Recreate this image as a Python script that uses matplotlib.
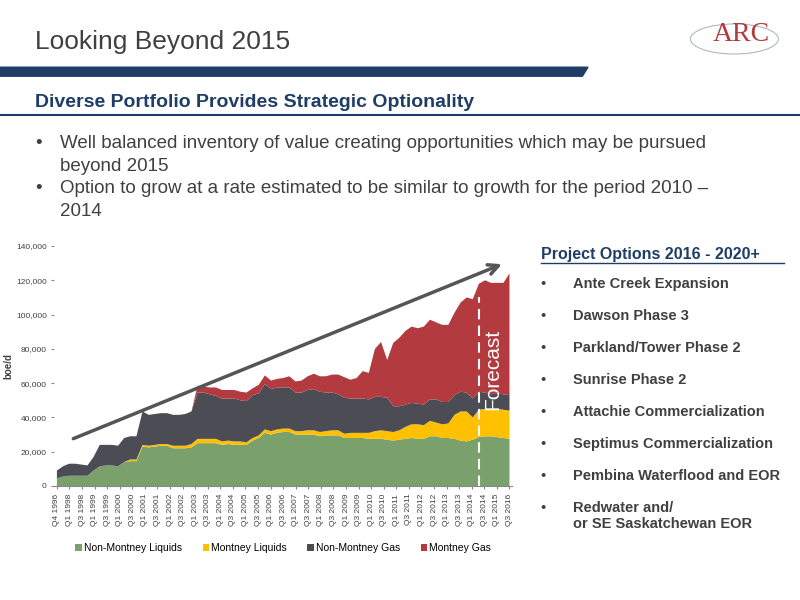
import numpy as np
import matplotlib
matplotlib.use("Agg")
import matplotlib.pyplot as plt
from matplotlib.patches import Polygon, Ellipse

plt.rcParams['font.family'] = ['Liberation Sans', 'DejaVu Sans']

# tick labels as printed on the source slide
tick_labels = ["Q4 1996", "Q1 1998", "Q3 1998"]
for yr in range(1999, 2015):
    tick_labels += [f"Q1 {yr}", f"Q3 {yr}"]
tick_labels += ["Q1 2015", "Q3 2016"]

# boe/d, thousands, sampled every half tick
non_montney_liquids = [4.5, 5.5, 6, 6, 6, 6, 9, 11.5, 12, 12, 11.5, 14, 14.5, 14.5,
                       23, 22.5, 23, 23.5, 23.5, 22, 22, 22, 22.5, 25, 25, 25, 25, 24,
                       24.5, 24, 24, 24, 26.5, 28, 31, 30, 31, 31.5, 31.5, 30, 30, 30,
                       30, 29, 29.5, 29.5, 29.5, 28, 28, 28, 28, 27.5, 27.5, 27.5, 27,
                       26.5, 27, 27.5, 28, 27.5, 27.5, 29, 29, 28, 28, 27.5, 26.5, 26,
                       27, 28.5, 29, 29, 28.5, 28, 27.5]
montney_liquids = [0, 0, 0, 0, 0, 0, 0, 0, 0, 0, 0, 0, 1, 1,
                   1, 1, 1, 1, 1, 1.5, 1.5, 1.5, 2, 2.5, 2.5, 2.5, 2.5, 2,
                   2, 2, 2, 1.5, 1.5, 1.5, 2, 2, 2, 2, 2, 2, 2, 2.5,
                   2.5, 2.5, 2.5, 3, 3, 2.5, 3, 3, 3, 3.5, 4.5, 5, 5,
                   5, 5.5, 7, 8, 8.5, 8, 9, 8, 8, 8.5, 14, 17, 17.5,
                   13, 16, 16, 15.5, 16.5, 16.5, 16.5]
non_montney_gas = [4.5, 6, 7, 7, 6.5, 6, 8, 12.5, 12, 12, 12, 14, 13.5, 13.5,
                   19.5, 18, 18, 18, 18, 18, 18, 18.5, 19, 27, 27, 26, 25, 25,
                   24.5, 25, 24, 24, 25, 24.5, 26.5, 24.5, 24.5, 24, 24, 22.5, 22.5, 23.5,
                   24, 23.5, 22.5, 22, 21, 21, 20, 20, 20, 19.5, 20, 19.5, 19.5,
                   15, 14, 13, 12.5, 12, 12, 12.5, 13.5, 13, 12.5, 11.5, 11.5, 11,
                   11, 10.5, 9.5, 9, 9, 9, 9]
montney_gas = [0, 0, 0, 0, 0, 0, 0, 0, 0, 0, 0, 0, 0, 0,
               0, 0, 0, 0, 0, 0, 0, 0, 0, 4, 3.5, 4, 5, 5,
               5, 5, 5, 5, 4, 5, 5, 5, 5, 5.5, 6.5, 6.5, 7, 8,
               9, 9, 9.5, 10.5, 11.5, 12, 11, 12, 16, 15.5, 28, 32, 22,
               37, 40, 43, 44.5, 44, 45.5, 46.5, 45, 45, 45, 48, 52, 55.5,
               58, 63, 65.5, 65, 64.5, 65, 71]
series_names = ["Non-Montney Liquids", "Montney Liquids", "Non-Montney Gas", "Montney Gas"]
series_colors = ["#7aa06c", "#ffc000", "#4c4c54", "#b33a3e"]

forecast_pos = 33.6
trend_start = (1.1, 27000)
trend_end = (35.6, 130000)

fig = plt.figure(figsize=(8, 6), dpi=100)

# ---- slide header ----
fig.text(0.044, 0.93, "Looking Beyond 2015", fontsize=19, color="#404040", va="center")
fig.add_artist(Polygon([[0, 0.888], [0.735, 0.888], [0.728, 0.873], [0, 0.873]],
                       closed=True, transform=fig.transFigure, color="#1f3d66"))
fig.text(0.044, 0.829, "Diverse Portfolio Provides Strategic Optionality",
         fontsize=14, fontweight="bold", color="#1f3d66", va="center")
fig.add_artist(plt.Line2D([0, 1], [0.808, 0.808], transform=fig.transFigure,
                          color="#1f3d66", lw=1.5))
fig.add_artist(Ellipse((0.918, 0.935), 0.11, 0.05, transform=fig.transFigure,
                       fill=False, ec="#b0b8c0", lw=0.8))
fig.text(0.927, 0.942, "ARC", fontsize=20, color="#b33a3e", family="Liberation Serif",
         va="center", ha="center")

bullets = [(0.775, "Well balanced inventory of value creating opportunities which may be pursued\nbeyond 2015"),
           (0.700, "Option to grow at a rate estimated to be similar to growth for the period 2010 \u2013\n2014")]
for y, txt in bullets:
    fig.text(0.044, y, "\u2022", fontsize=13.5, color="#404040", va="top")
    fig.text(0.075, y, txt, fontsize=13.5, color="#404040", va="top", linespacing=1.45)

# ---- chart ----
ax = fig.add_axes([0.068, 0.19, 0.572, 0.40])
stack = np.array([non_montney_liquids, montney_liquids, non_montney_gas, montney_gas]) * 1000
x = np.linspace(0, len(tick_labels) - 1, stack.shape[1])
ax.stackplot(x, stack, colors=series_colors, labels=series_names, lw=0)
ax.set_xlim(-0.2, len(tick_labels) - 0.8)
ax.set_ylim(0, 140000)
ax.set_yticks(np.arange(0, 140001, 20000))
ax.set_yticklabels([f"{v:,}" for v in range(0, 140001, 20000)], fontsize=6, color="#404040")
ax.set_xticks(range(len(tick_labels)))
ax.set_xticklabels(tick_labels, rotation=90, fontsize=6, color="#404040")
ax.tick_params(length=2, color="#888888")
ax.set_ylabel("boe/d", fontsize=7, fontweight="bold", color="#404040", labelpad=2)
for s in ["top", "right", "left"]:
    ax.spines[s].set_visible(False)
ax.spines["bottom"].set_color("#888888")

ax.axvline(forecast_pos, ymax=110000 / 140000, color="white", lw=1.5, ls=(0, (5, 3)))
ax.text(forecast_pos + 1.1, 68000, "Forecast", rotation=90, fontsize=15, color="white",
        ha="center", va="center")
ax.annotate("", xy=trend_end, xytext=trend_start,
            arrowprops=dict(arrowstyle="->", color="#555555", lw=2.5, mutation_scale=18))

ax.legend(loc="upper center", bbox_to_anchor=(0.5, -0.2), ncol=4, frameon=False,
          fontsize=7.5, handlelength=0.6, handleheight=0.6, columnspacing=2.0,
          handletextpad=0.2)

# ---- project options panel ----
fig.text(0.676, 0.575, "Project Options 2016 - 2020+", fontsize=11.5, fontweight="bold",
         color="#1f3d66", va="center")
fig.add_artist(plt.Line2D([0.676, 0.98], [0.561, 0.561], transform=fig.transFigure,
                          color="#1f3d66", lw=1))
projects = ["Ante Creek Expansion", "Dawson Phase 3", "Parkland/Tower Phase 2",
            "Sunrise Phase 2", "Attachie Commercialization", "Septimus Commercialization",
            "Pembina Waterflood and EOR", "Redwater and/\nor SE Saskatchewan EOR"]
for i, name in enumerate(projects):
    y = 0.538 - i * 0.0533
    fig.text(0.676, y, "\u2022", fontsize=10.5, color="#404040", va="top")
    fig.text(0.716, y, name, fontsize=10.5, fontweight="bold", color="#404040", va="top")

fig.savefig("out.png", dpi=100, facecolor="white")
